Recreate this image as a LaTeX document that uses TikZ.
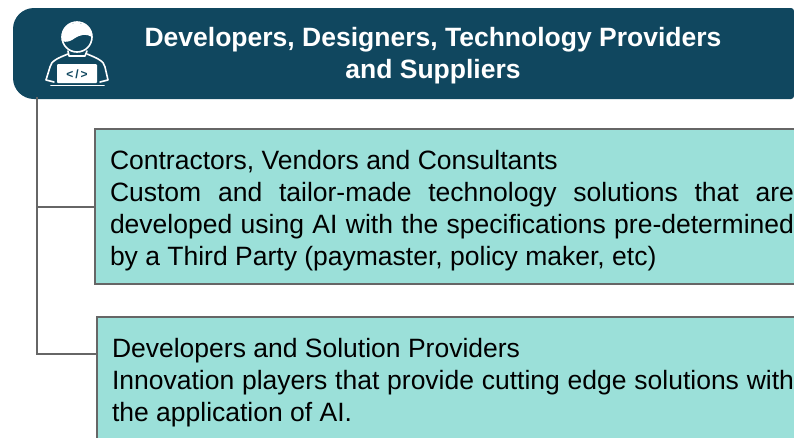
\documentclass[tikz,border=0pt]{standalone}
\usepackage{fontspec}
\setmainfont{Liberation Sans}
\definecolor{headerblue}{HTML}{10475F}
\definecolor{boxteal}{HTML}{9BE0D9}
\definecolor{linegrey}{HTML}{666666}
\tikzset{
    conn/.style={draw=linegrey, line width=2pt},
    infobox/.style={draw=linegrey, line width=2pt, fill=boxteal, anchor=north west, align=justify,
        outer sep=0pt, inner xsep=15pt, inner ysep=0pt, font=\fontsize{26.5}{32}\selectfont},
    headertext/.style={text=white, align=center, font=\fontsize{26.5}{32}\selectfont\bfseries},
    iconline/.style={draw=white, line width=1.6pt, line cap=round, line join=round}
}
\begin{document}
\begin{tikzpicture}[x=1pt, y=-1pt]
        \clip (0,0) rectangle (794,437);

        % header band
        \fill [headerblue, rounded corners=21pt] (400,99) -- (13,99) -- (13,8) -- (400,8)
            [rounded corners=3pt] -- (794,8) -- (794,99) -- cycle;
        \node [headertext] (header) at (433,56) {Developers, Designers, Technology Providers\\and Suppliers};

        % icon
        \draw [iconline] (77,37) ellipse (15 and 15);
        \fill [white] (62,41) .. controls (60,28) and (68,23) .. (77,23)
            .. controls (87,23) and (93,30) .. (92,37)
            .. controls (86,33) and (80,35) .. (75,38)
            .. controls (71,41) and (67,43) .. (62,41) -- cycle;
        \draw [iconline] (68,51) -- (69,56) -- (85,56) -- (87,51);
        \draw [iconline] (68,54) .. controls (58,58) and (51,61) .. (50,67) -- (46,80) -- (54,82);
        \draw [iconline] (87,54) .. controls (97,58) and (104,61) .. (105,67) -- (108,80) -- (100,82);
        \fill [white, rounded corners=1pt] (57,64) rectangle (97,83);
        \draw [iconline] (51,85.5) -- (104,85.5);
        \node [text=headerblue, font=\fontsize{12}{12}\selectfont\bfseries, inner sep=0pt] (code) at (77,74) {<\,/\,>};

        % boxes
        \node [infobox, text width=684pt, minimum height=155pt] (contractors) at (95,129)
            {\rule{0pt}{28pt}Contractors, Vendors and Consultants\hfill\break
             Custom and tailor-made technology solutions that are\linebreak
             developed using AI with the specifications pre-determined\linebreak
             by a Third Party (paymaster, policy maker, etc)};
        \node [infobox, text width=682pt, minimum height=132pt] (devs) at (97,317)
            {Developers and Solution Providers\hfill\break
             Innovation players that provide cutting edge solutions with\linebreak
             the application of AI.};

        % connectors
        \coordinate (trunk) at (37,97);
        \coordinate (devjoin) at (96,354);
        \draw [conn] (trunk) |- (contractors.west);
        \draw [conn] (trunk) |- (devjoin);
    \end{tikzpicture}
\end{document}
